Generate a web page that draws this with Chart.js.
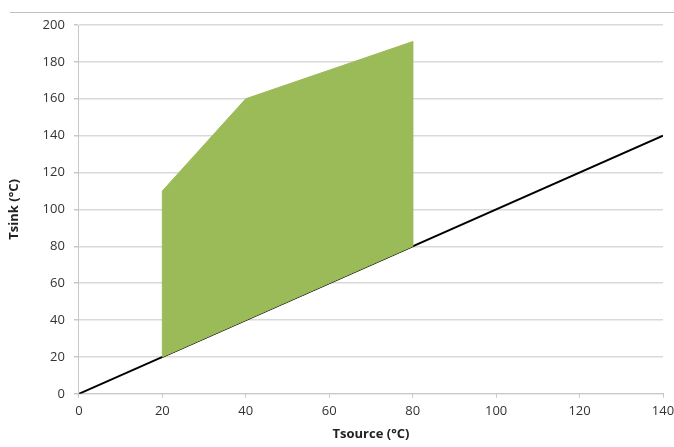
<!DOCTYPE html>
<html>
<head>
<meta charset="utf-8">
<script src="https://cdn.jsdelivr.net/npm/chart.js@4.4.1/dist/chart.umd.min.js"></script>
<style>
  html, body { margin: 0; padding: 0; background: #fff; }
  #wrap { width: 674px; height: 447px; position: relative; }
</style>
</head>
<body>
<div id="wrap"><canvas id="tchart"></canvas></div>
<script>
// Operating range: Tsink vs Tsource
var rangeSource = [20, 20, 40, 80, 80, 20];
var rangeSink   = [20, 110, 160, 191, 80, 20];

// Tsink = Tsource reference line
var diagSource = [0, 140];
var diagSink   = [0, 140];

var xTicks = [0, 20, 40, 60, 80, 100, 120, 140];
var yTicks = [0, 20, 40, 60, 80, 100, 120, 140, 160, 180, 200];

function toPoints(xs, ys) {
  return xs.map(function(x, i) { return { x: x, y: ys[i] }; });
}

// thin rule above the plot
var topRule = {
  id: 'topRule',
  beforeDraw: function(chart) {
    var ctx = chart.ctx;
    ctx.save();
    ctx.strokeStyle = '#c0c0c0';
    ctx.lineWidth = 1;
    ctx.beginPath();
    ctx.moveTo(10, 12.5);
    ctx.lineTo(chart.width, 12.5);
    ctx.stroke();
    ctx.restore();
  }
};

var font = { family: 'Open Sans', size: 13 };
var titleFont = { family: 'Open Sans', size: 13, weight: 'bold' };

new Chart(document.getElementById('tchart'), {
  type: 'scatter',
  data: {
    datasets: [{
      label: 'range',
      data: toPoints(rangeSource, rangeSink),
      showLine: true,
      fill: 'shape',
      backgroundColor: '#9bbb59',
      borderColor: '#9bbb59',
      borderWidth: 1,
      pointRadius: 0,
      tension: 0
    }, {
      label: 'diagonal',
      data: toPoints(diagSource, diagSink),
      showLine: true,
      fill: false,
      borderColor: '#000',
      borderWidth: 2,
      pointRadius: 0
    }]
  },
  options: {
    responsive: true,
    maintainAspectRatio: false,
    animation: false,
    layout: { padding: { left: 2, right: 0, top: 25, bottom: 1 } },
    plugins: {
      legend: { display: false },
      tooltip: { enabled: false }
    },
    scales: {
      x: {
        type: 'linear',
        min: 0, max: 140,
        afterBuildTicks: function(axis) { axis.ticks = xTicks.map(function(v) { return { value: v }; }); },
        afterFit: function(axis) { axis.paddingRight = 11; },
        grid: { display: true, drawOnChartArea: false, drawTicks: true, tickLength: 4, color: '#c8c8c8' },
        border: { color: '#c8c8c8', width: 1 },
        ticks: { color: '#333', font: font, padding: 6, maxRotation: 0 },
        title: { display: true, text: 'Tsource (°C)', color: '#222', font: titleFont, padding: { top: 1 } }
      },
      y: {
        type: 'linear',
        min: 0, max: 200,
        afterBuildTicks: function(axis) { axis.ticks = yTicks.map(function(v) { return { value: v }; }); },
        grid: { color: '#d9d9d9', lineWidth: 1.5, tickLength: 5, tickColor: '#c8c8c8' },
        border: { color: '#c8c8c8', width: 1 },
        ticks: { color: '#333', font: font, padding: 9 },
        title: { display: true, text: 'Tsink (°C)', color: '#222', font: titleFont, padding: { bottom: 12 } }
      }
    }
  },
  plugins: [topRule]
});
</script>
</body>
</html>
